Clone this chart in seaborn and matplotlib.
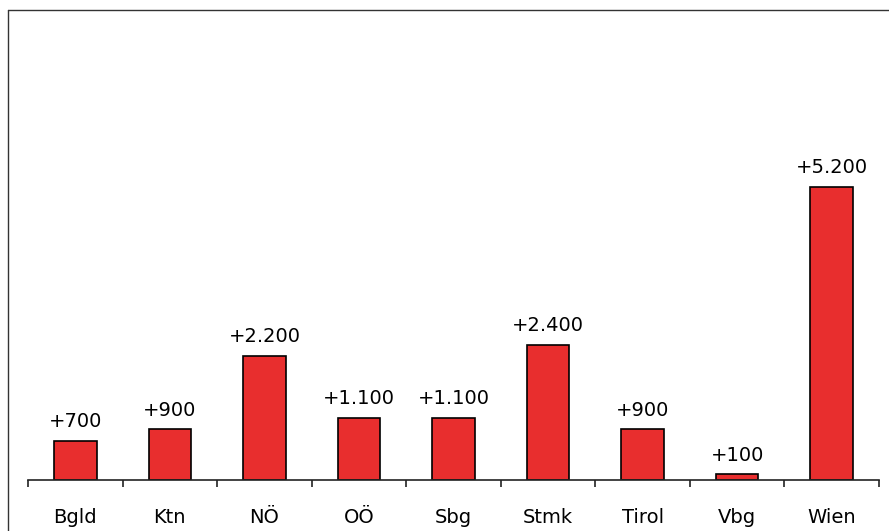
import numpy as np
import pandas as pd
import matplotlib
matplotlib.use("Agg")
import matplotlib.pyplot as plt
import seaborn as sns
from matplotlib.lines import Line2D

# Data
regions = ["Bgld", "Ktn", "NÖ", "OÖ", "Sbg", "Stmk", "Tirol", "Vbg", "Wien"]
changes = [700, 900, 2200, 1100, 1100, 2400, 900, 100, 5200]

BAR_RED = "#E82E2E"
W, H = 889, 531

sns.set_style("white")
plt.rcParams["font.family"] = ["DejaVu Sans"]

df = pd.DataFrame({"region": regions, "change": changes})

fig = plt.figure(figsize=(W / 100, H / 100), dpi=100)
ax = fig.add_axes([28 / W, (H - 480) / H, (879 - 28) / W, (480 - 10) / H])

sns.barplot(data=df, x="region", y="change", color=BAR_RED, width=0.45,
            edgecolor="black", linewidth=1.2, saturation=1, ax=ax)

for i, v in enumerate(changes):
    label = "+" + f"{v:,}".replace(",", ".")
    ax.annotate(label, (i, v), xytext=(0, 7), textcoords="offset points",
                ha="center", va="bottom", fontsize=14, color="black")

ax.set_xlim(-0.5, len(regions) - 0.5)
ax.set_ylim(0, 8340)
ax.set_xlabel("")
ax.set_ylabel("")
ax.set_yticks([])

# ticks between categories, labels at bar centres
ax.set_xticks(np.arange(len(regions) + 1) - 0.5)
ax.set_xticklabels([])
ax.set_xticks(np.arange(len(regions)), minor=True)
ax.set_xticklabels(regions, minor=True, fontsize=14, color="black")
ax.tick_params(axis="x", which="major", direction="out", length=5,
               width=1.2, color="#222222", bottom=True)
ax.tick_params(axis="x", which="minor", length=0, pad=20)

for side in ["top", "right", "left"]:
    ax.spines[side].set_visible(False)
ax.spines["bottom"].set_color("#222222")
ax.spines["bottom"].set_linewidth(1.2)

# outer frame (left and top edges)
fig.add_artist(Line2D([8 / W, 8 / W], [0, (H - 10) / H], color="#333333", lw=1))
fig.add_artist(Line2D([8 / W, 1], [(H - 10) / H, (H - 10) / H], color="#333333", lw=1))

fig.savefig("out.png", dpi=100, facecolor="white")
